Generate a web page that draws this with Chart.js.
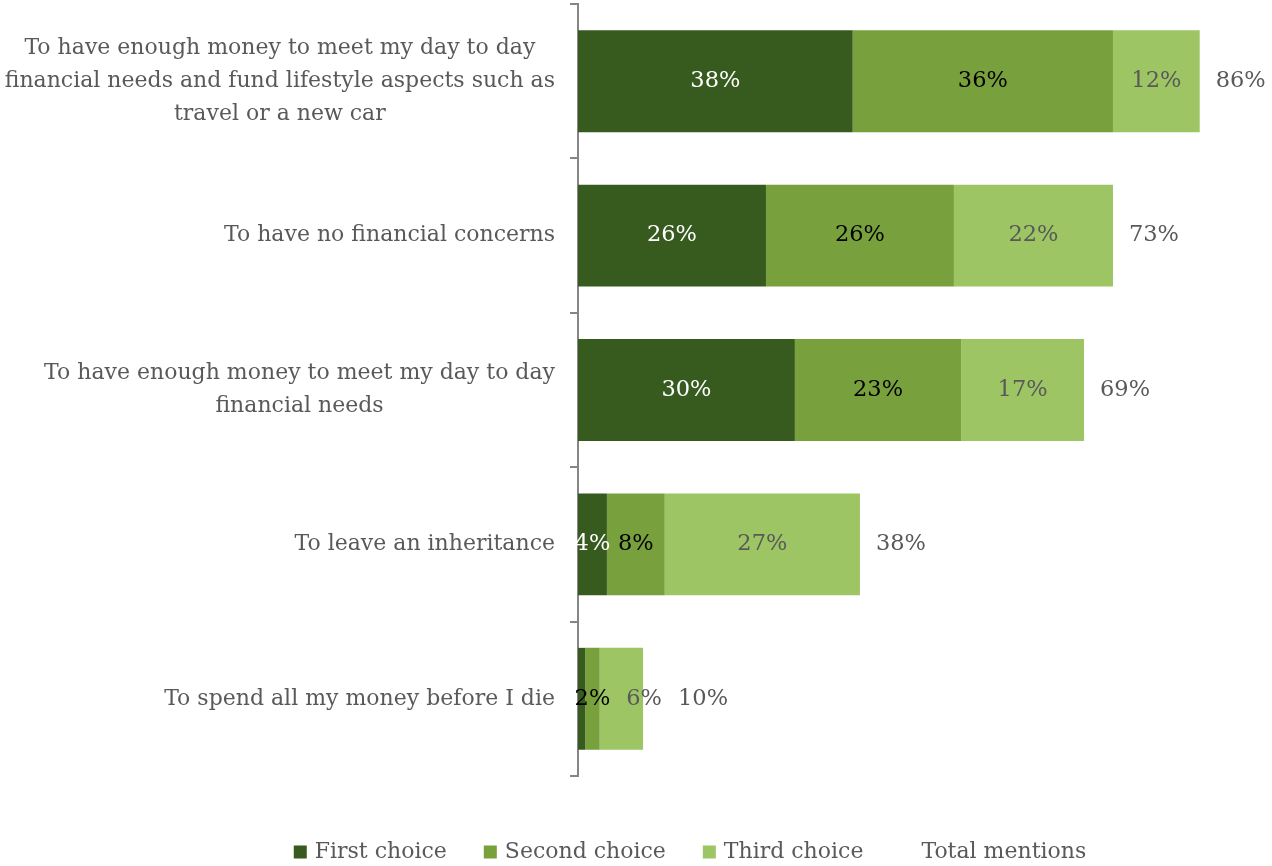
<!DOCTYPE html>
<html>
<head>
<meta charset="utf-8">
<script src="https://cdn.jsdelivr.net/npm/chart.js@4.4.1/dist/chart.umd.min.js"></script>
<style>
  html, body { margin: 0; padding: 0; background: #fff; }
  #wrap { width: 1272px; height: 866px; position: relative; }
</style>
</head>
<body>
<div id="wrap"><canvas id="goalsChart"></canvas></div>
<script>
// Retirement goals - share of mentions by choice rank
const categories = [
    ['To have enough money to meet my day to day', 'financial needs and fund lifestyle aspects such as', 'travel or a new car'],
    ['To have no financial concerns'],
    ['To have enough money to meet my day to day', 'financial needs'],
    ['To leave an inheritance'],
    ['To spend all my money before I die']
];
const seriesNames = ['First choice', 'Second choice', 'Third choice', 'Total mentions'];
const firstChoice = [38, 26, 30, 4, 1];
const secondChoice = [36, 26, 23, 8, 2];
const thirdChoice = [12, 22, 17, 27, 6];
const totalMentions = [86, 73, 69, 38, 10];

const COLORS = {
    first: '#375a1e',
    second: '#78a03c',
    third: '#9dc563',
    text: '#595959',
    axis: '#868686'
};
const FONT = '"DejaVu Serif", "Liberation Serif", serif';
const FONT_SIZE = 22.5;
const CAT_FONT_SIZE = 22;

// labels drawn by hand: Excel-style centred multi-line category text,
// data labels with simple collision push, and the bottom legend
const labelPlugin = {
    id: 'excelLabels',
    afterDatasetsDraw(chart) {
        const ctx = chart.ctx;
        const yScale = chart.scales.y;
        const area = chart.chartArea;
        ctx.save();
        ctx.textBaseline = 'middle';

        // category labels
        ctx.font = `${CAT_FONT_SIZE}px ${FONT}`;
        const lineH = 33;
        categories.forEach((lines, i) => {
            const yc = yScale.getPixelForValue(i);
            const maxW = Math.max(...lines.map(l => ctx.measureText(l).width));
            const cx = area.left - 23 - maxW / 2;
            ctx.fillStyle = COLORS.text;
            ctx.textAlign = 'center';
            lines.forEach((l, k) => {
                ctx.fillText(l, cx, yc + (k - (lines.length - 1) / 2) * lineH);
            });
        });

        // data labels
        ctx.font = `${FONT_SIZE}px ${FONT}`;
        const labelColors = ['#ffffff', '#000000', COLORS.text, COLORS.text];
        for (let i = 0; i < categories.length; i++) {
            let prevRight = -Infinity;
            for (let d = 0; d < 4; d++) {
                const ds = chart.data.datasets[d];
                const v = ds.data[i];
                if (d < 3 && v < 2) continue;
                const bar = chart.getDatasetMeta(d).data[i];
                const txt = v + '%';
                const w = ctx.measureText(txt).width;
                let left;
                if (d < 3) {
                    left = (bar.x + bar.base) / 2 - w / 2;
                } else {
                    left = bar.base + 16;
                }
                if (left < prevRight + 4) left = prevRight + 16;
                ctx.fillStyle = labelColors[d];
                ctx.textAlign = 'left';
                ctx.fillText(txt, left, bar.y);
                prevRight = left + w;
            }
        }
        ctx.restore();
    },
    afterDraw(chart) {
        const ctx = chart.ctx;
        ctx.save();
        ctx.font = `${CAT_FONT_SIZE}px ${FONT}`;
        ctx.textBaseline = 'middle';
        ctx.textAlign = 'left';
        const box = 13, boxGap = 8, itemGap = 37;
        const widths = seriesNames.map(n => box + boxGap + ctx.measureText(n).width);
        const total = widths.reduce((a, b) => a + b, 0) + itemGap * (widths.length - 1);
        let x = 690 - total / 2;
        const y = 852;
        seriesNames.forEach((n, k) => {
            const bg = chart.data.datasets[k].backgroundColor;
            if (bg !== 'transparent') {
                ctx.fillStyle = bg;
                ctx.fillRect(x, y - box / 2, box, box);
            }
            ctx.fillStyle = COLORS.text;
            ctx.fillText(n, x + box + boxGap, y);
            x += widths[k] + itemGap;
        });
        ctx.restore();
    }
};

const ctxGoals = document.getElementById('goalsChart').getContext('2d');
new Chart(ctxGoals, {
    type: 'bar',
    data: {
        labels: categories,
        datasets: [
            { label: seriesNames[0], data: firstChoice, backgroundColor: COLORS.first },
            { label: seriesNames[1], data: secondChoice, backgroundColor: COLORS.second },
            { label: seriesNames[2], data: thirdChoice, backgroundColor: COLORS.third },
            { label: seriesNames[3], data: totalMentions, backgroundColor: 'transparent' }
        ]
    },
    options: {
        indexAxis: 'y',
        responsive: true, maintainAspectRatio: false,
        animation: false,
        layout: { padding: { left: 570, top: 4, right: 0, bottom: 90 } },
        datasets: { bar: { categoryPercentage: 1, barPercentage: 0.66, borderWidth: 0 } },
        scales: {
            x: { stacked: true, display: false, min: 0, max: 96 },
            y: {
                stacked: true,
                grid: { drawOnChartArea: false, tickLength: 8, color: COLORS.axis, lineWidth: 2, offset: true },
                border: { color: COLORS.axis, width: 2 },
                ticks: { display: false }
            }
        },
        plugins: {
            legend: { display: false },
            tooltip: { enabled: true }
        }
    },
    plugins: [labelPlugin]
});
</script>
</body>
</html>
